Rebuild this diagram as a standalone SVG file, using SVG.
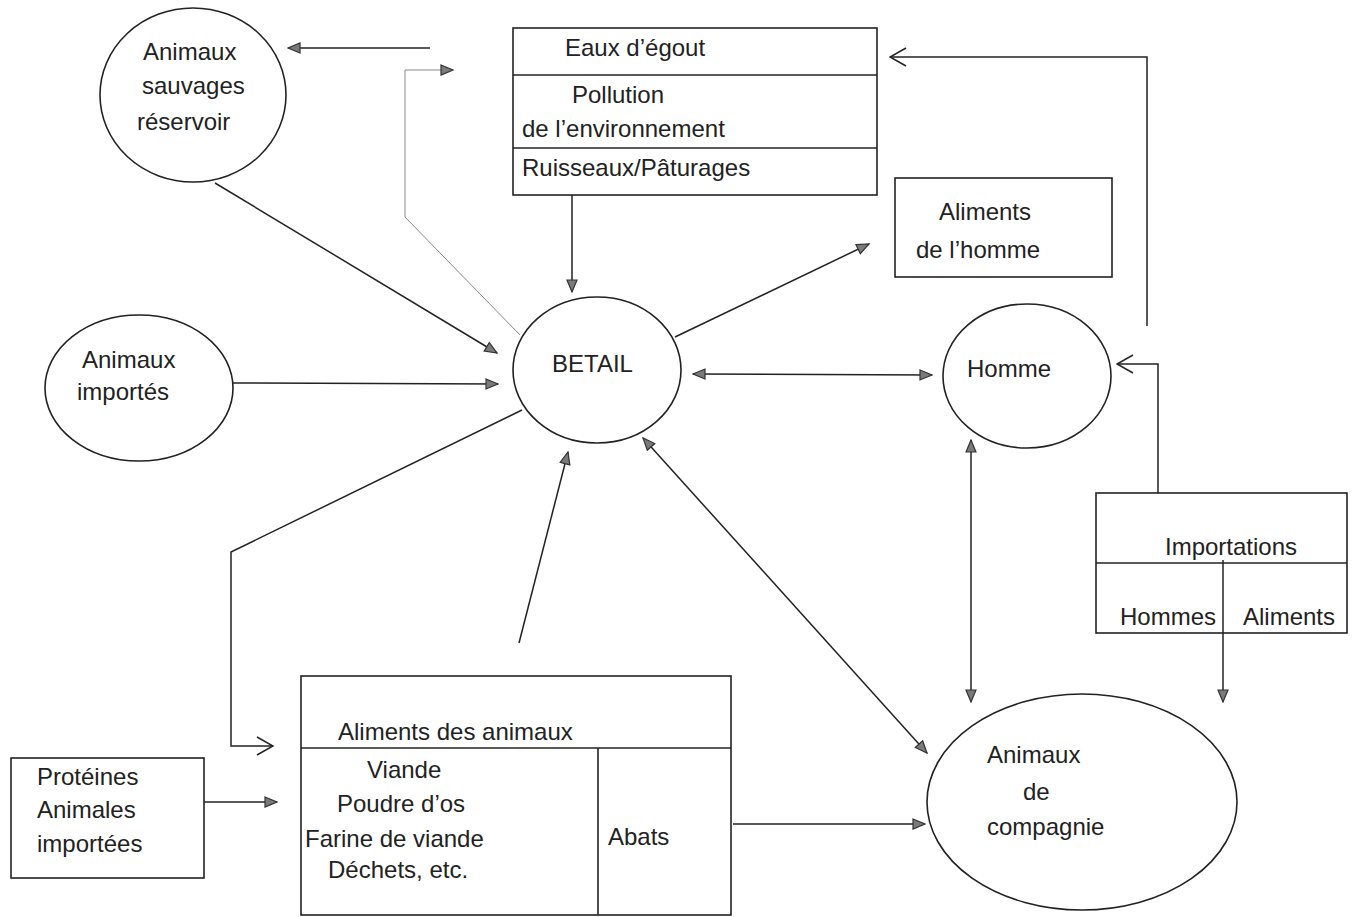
<svg xmlns="http://www.w3.org/2000/svg" width="1352" height="917" viewBox="0 0 1352 917">
<style>
.shape{fill:none;stroke:#222;stroke-width:1.6}
.t{font-family:"Liberation Sans",Arial,sans-serif;font-size:24px;fill:#222}
.c{fill:none;stroke:#222;stroke-width:1.5}
.thin{fill:none;stroke:#888;stroke-width:1}
</style>
<defs>
<marker id="tri" viewBox="0 0 14 12" refX="13" refY="6" markerWidth="14" markerHeight="12" markerUnits="userSpaceOnUse" orient="auto-start-reverse">
<path d="M1,1 L13,6 L1,11 Z" fill="#7a7a7a" stroke="#333" stroke-width="1.2"/>
</marker>
<marker id="chev" viewBox="0 0 18 20" refX="17" refY="10" markerWidth="18" markerHeight="20" markerUnits="userSpaceOnUse" orient="auto">
<path d="M1,1 L17,10 L1,19" fill="none" stroke="#222" stroke-width="1.5"/>
</marker>
</defs>
<rect width="1352" height="917" fill="#fff"/>

<g id="sauvages">
<ellipse class="shape" cx="193" cy="95" rx="93" ry="87"/>
<text class="t" x="143" y="60">Animaux</text>
<text class="t" x="142" y="94">sauvages</text>
<text class="t" x="137" y="130">réservoir</text>
</g>

<g id="egout">
<rect class="shape" x="513" y="28" width="364" height="167"/>
<line class="shape" x1="513" y1="75" x2="877" y2="75"/>
<line class="shape" x1="513" y1="148" x2="877" y2="148"/>
<text class="t" x="565" y="56">Eaux d’égout</text>
<text class="t" x="572" y="103">Pollution</text>
<text class="t" x="522" y="137">de l’environnement</text>
<text class="t" x="522" y="176">Ruisseaux/Pâturages</text>
</g>

<g id="aliments-homme">
<rect class="shape" x="895" y="178" width="217" height="99"/>
<text class="t" x="939" y="220">Aliments</text>
<text class="t" x="916" y="258">de l’homme</text>
</g>

<g id="betail">
<ellipse class="shape" cx="597" cy="370" rx="84" ry="73"/>
<text class="t" x="552" y="372">BETAIL</text>
</g>

<g id="importes">
<ellipse class="shape" cx="139" cy="388" rx="94" ry="73"/>
<text class="t" x="82" y="368">Animaux</text>
<text class="t" x="77" y="400">importés</text>
</g>

<g id="homme">
<ellipse class="shape" cx="1027" cy="376" rx="84" ry="72"/>
<text class="t" x="967" y="377">Homme</text>
</g>

<g id="importations">
<rect class="shape" x="1096" y="493" width="251" height="140"/>
<line class="shape" x1="1096" y1="563" x2="1347" y2="563"/>
<text class="t" x="1165" y="555">Importations</text>
<text class="t" x="1120" y="625">Hommes</text>
<text class="t" x="1243" y="625">Aliments</text>
</g>

<g id="aliments-animaux">
<rect class="shape" x="301" y="676" width="430" height="239"/>
<line class="shape" x1="301" y1="748" x2="731" y2="748"/>
<line class="shape" x1="598" y1="748" x2="598" y2="915"/>
<text class="t" x="338" y="740">Aliments des animaux</text>
<text class="t" x="367" y="778">Viande</text>
<text class="t" x="337" y="812">Poudre d’os</text>
<text class="t" x="305" y="847">Farine de viande</text>
<text class="t" x="328" y="878">Déchets, etc.</text>
<text class="t" x="608" y="845">Abats</text>
</g>

<g id="proteines">
<rect class="shape" x="11" y="758" width="193" height="120"/>
<text class="t" x="37" y="785">Protéines</text>
<text class="t" x="37" y="818">Animales</text>
<text class="t" x="37" y="852">importées</text>
</g>

<g id="compagnie">
<ellipse class="shape" cx="1082" cy="802" rx="155" ry="108"/>
<text class="t" x="987" y="763">Animaux</text>
<text class="t" x="1023" y="800">de</text>
<text class="t" x="987" y="835">compagnie</text>
</g>

<g id="connectors">
<line class="c" x1="430" y1="48" x2="288" y2="48" marker-end="url(#tri)"/>
<polyline class="thin" points="520,335 405,217 405,70 453,70" marker-end="url(#tri)"/>
<line class="c" x1="572" y1="195" x2="572" y2="292" marker-end="url(#tri)"/>
<line class="c" x1="215" y1="183" x2="497" y2="353" marker-end="url(#tri)"/>
<line class="c" x1="233" y1="383" x2="498" y2="384" marker-end="url(#tri)"/>
<polyline class="c" points="522,410 231,552 231,746 273,746" marker-end="url(#chev)"/>
<line class="c" x1="519" y1="643" x2="568" y2="452" marker-end="url(#tri)"/>
<line class="c" x1="643" y1="438" x2="927" y2="753" marker-start="url(#tri)" marker-end="url(#tri)"/>
<line class="c" x1="733" y1="824" x2="925" y2="824" marker-end="url(#tri)"/>
<line class="c" x1="204" y1="802" x2="277" y2="802" marker-end="url(#tri)"/>
<line class="c" x1="675" y1="337" x2="869" y2="244" marker-end="url(#tri)"/>
<line class="c" x1="693" y1="374" x2="932" y2="375" marker-start="url(#tri)" marker-end="url(#tri)"/>
<line class="c" x1="971" y1="440" x2="971" y2="702" marker-start="url(#tri)" marker-end="url(#tri)"/>
<polyline class="c" points="1147,326 1147,57 890,57" marker-end="url(#chev)"/>
<polyline class="c" points="1158,493 1158,364 1117,364" marker-end="url(#chev)"/>
<line class="c" x1="1223" y1="560" x2="1223" y2="702" marker-end="url(#tri)"/>
</g>
</svg>
